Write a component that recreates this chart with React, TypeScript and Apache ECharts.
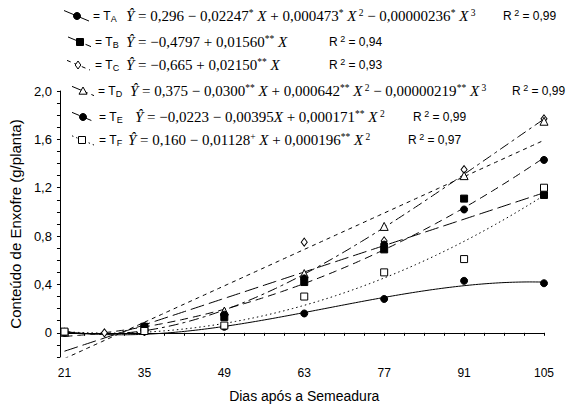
import React, { useEffect, useRef } from 'react';
import * as echarts from 'echarts';

// Sampling days (x) and observed values (g/planta)
const days = [21, 35, 49, 63, 77, 91, 105];
const obsA = [0.005, 0.01, 0.05, 0.16, 0.28, 0.43, 0.41];
const obsB = [0.005, 0.05, 0.13, 0.42, 0.69, 1.11, 1.14];
const obsC = [0.005, 0.04, 0.16, 0.75, 0.76, 1.35, 1.77];
const obsD = [0.005, 0.05, 0.18, 0.49, 0.88, 1.3, 1.75];
const obsE = [0.0, 0.055, 0.15, 0.45, 0.73, 1.02, 1.43];
const obsF = [0.01, 0.015, 0.06, 0.3, 0.5, 0.61, 1.2];
const extraDaysC = [28];
const extraObsC = [0.0];

// Regression coefficients read from the equations (b0, b1, b2, b3)
const coefA = [0.296, -0.02247, 0.000473, -0.00000236];
const coefB = [-0.4797, 0.0156];
const coefC = [-0.665, 0.0215];
const coefD = [0.375, -0.03, 0.000642, -0.00000219];
const coefE = [-0.0223, -0.00395, 0.000171];
const coefF = [0.16, -0.01128, 0.000196];

// Legend texts
const names = ['A', 'B', 'C', 'D', 'E', 'F'];
const equations = [
  '{i|Ŷ} = 0,296 − 0,02247{s|*} {i|X} + 0,000473{s|*} {i|X}{s| 2} − 0,00000236{s|*} {i|X}{s| 3}',
  '{i|Ŷ} = −0,4797 + 0,01560{s|**} {i|X}',
  '{i|Ŷ} = −0,665 + 0,02150{s|**} {i|X}',
  '{i|Ŷ} = 0,375 − 0,0300{s|**} {i|X} + 0,000642{s|**} {i|X}{s| 2} − 0,00000219{s|**} {i|X}{s| 3}',
  '{i|Ŷ} = −0,0223 − 0,00395{i|X} + 0,000171{s|**} {i|X}{s| 2}',
  '{i|Ŷ} = 0,160 − 0,01128{s|+} {i|X} + 0,000196{s|**} {i|X}{s| 2}',
];
const r2Values = ['0,99', '0,94', '0,93', '0,99', '0,99', '0,97'];

const yTitle = 'Conteúdo de Enxofre (g/planta)';
const xTitle = 'Dias após a Semeadura';

const serif = "'Liberation Serif', 'Times New Roman', serif";
const sans = "'Liberation Sans', Arial, sans-serif";

function poly(c: number[], x: number) {
  return c.reduce((s, k, i) => s + k * Math.pow(x, i), 0);
}
function curve(c: number[]) {
  const pts: number[][] = [];
  for (let i = 0; i <= 168; i++) {
    const x = 21 + i * 0.5;
    pts.push([x, poly(c, x)]);
  }
  return pts;
}

const obsAll = [obsA, obsB, obsC, obsD, obsE, obsF];
const coefAll = [coefA, coefB, coefC, coefD, coefE, coefF];

type St = { dash: any; symbol: string; size: number; filled: boolean };
const styles: St[] = [
  { dash: 'solid', symbol: 'circle', size: 7, filled: true },
  { dash: [14, 5], symbol: 'rect', size: 7, filled: true },
  { dash: [4, 4], symbol: 'diamond', size: 8, filled: false },
  { dash: [10, 4, 3, 4], symbol: 'triangle', size: 8, filled: false },
  { dash: [8, 5], symbol: 'circle', size: 7, filled: true },
  { dash: [1.5, 3], symbol: 'rect', size: 7, filled: false },
];

// legend layout
const rows = [
  { y: 16, sx: 77, l0: 64, l1: 89, ex: 93, qx: 126, rx: 503 },
  { y: 42, sx: 80, l0: 68, l1: 91, ex: 95, qx: 126, rx: 329 },
  { y: 65, sx: 78, l0: 67, l1: 90, ex: 95, qx: 126, rx: 329 },
  { y: 91, sx: 83, l0: 72, l1: 94, ex: 98, qx: 130, rx: 512 },
  { y: 117, sx: 83, l0: 72, l1: 94, ex: 99, qx: 135, rx: 413 },
  { y: 140, sx: 82, l0: 72, l1: 94, ex: 99, qx: 128, rx: 408 },
];

function legendMarker(st: St, cx: number, cy: number) {
  const fill = st.filled ? '#000' : '#fff';
  const s = { fill, stroke: '#000', lineWidth: 1 };
  const h = st.size / 2;
  if (st.symbol === 'circle') return { type: 'circle', shape: { cx, cy, r: h }, style: s, z: 10 };
  if (st.symbol === 'rect') return { type: 'rect', shape: { x: cx - h, y: cy - h, width: st.size, height: st.size }, style: s, z: 10 };
  if (st.symbol === 'diamond')
    return { type: 'polygon', shape: { points: [[cx, cy - h], [cx + h * 0.7, cy], [cx, cy + h], [cx - h * 0.7, cy]] }, style: s, z: 10 };
  return { type: 'polygon', shape: { points: [[cx, cy - h], [cx + h, cy + h * 0.8], [cx - h, cy + h * 0.8]] }, style: s, z: 10 };
}

function buildGraphic() {
  const els: any[] = [];
  rows.forEach((r, i) => {
    const st = styles[i];
    const slope = 0.42;
    els.push({
      type: 'line',
      shape: { x1: r.l0, y1: r.y - (r.sx - r.l0) * slope, x2: r.l1, y2: r.y + (r.l1 - r.sx) * slope },
      style: { stroke: '#000', lineWidth: 1, lineDash: st.dash === 'solid' ? null : st.dash },
    });
    els.push(legendMarker(st, r.sx, r.y));
    els.push({
      type: 'text',
      x: r.ex,
      y: r.y,
      style: {
        text: '= T{sub|' + names[i] + '}',
        fontFamily: sans,
        fontSize: 12,
        fill: '#000',
        verticalAlign: 'middle',
        lineHeight: 14,
        rich: { sub: { fontFamily: sans, fontSize: 9, fill: '#000', verticalAlign: 'bottom', lineHeight: 11 } },
      },
    });
    els.push({
      type: 'text',
      x: r.qx,
      y: r.y,
      style: {
        text: equations[i],
        fontFamily: serif,
        fontSize: 15,
        fill: '#000',
        verticalAlign: 'middle',
        lineHeight: 17,
        rich: {
          i: { fontFamily: serif, fontStyle: 'italic', fontSize: 15, fill: '#000', lineHeight: 17 },
          s: { fontFamily: serif, fontSize: 9.5, fill: '#000', verticalAlign: 'top', lineHeight: 9 },
        },
      },
    });
    els.push({
      type: 'text',
      x: r.rx,
      y: r.y,
      style: {
        text: 'R{sup| 2} = ' + r2Values[i],
        fontFamily: sans,
        fontSize: 12,
        fill: '#000',
        verticalAlign: 'middle',
        lineHeight: 15,
        rich: { sup: { fontFamily: sans, fontSize: 9, fill: '#000', verticalAlign: 'top', lineHeight: 9 } },
      },
    });
  });
  return els;
}

function buildSeries() {
  const series: any[] = [];
  coefAll.forEach((c, i) => {
    const st = styles[i];
    series.push({
      type: 'line',
      data: curve(c),
      showSymbol: false,
      symbol: 'none',
      clip: true,
      lineStyle: { color: '#000', width: 1, type: st.dash },
      z: 2,
      silent: true,
    });
  });
  obsAll.forEach((o, i) => {
    const st = styles[i];
    let data = days.map((d, k) => [d, o[k]]);
    if (i === 2) data = data.concat(extraDaysC.map((d, k) => [d, extraObsC[k]]));
    series.push({
      type: 'scatter',
      data,
      symbol: st.symbol,
      symbolSize: st.symbol === 'diamond' ? [6, 8] : st.size,
      itemStyle: { color: st.filled ? '#000' : '#fff', borderColor: '#000', borderWidth: 1, opacity: 1 },
      z: 5 + i,
      silent: true,
    });
  });
  return series;
}

export default function App() {
  const ref = useRef<HTMLDivElement>(null);
  useEffect(() => {
    if (!ref.current) return;
    const chart = echarts.init(ref.current, null, { renderer: 'svg' });
    const isInt = (v: number, step: number, base: number) => {
      const q = (v - base) / step;
      return Math.abs(q - Math.round(q)) < 1e-6;
    };
    chart.setOption({
      animation: false,
      backgroundColor: '#fff',
      grid: { left: 63.5, right: 29, top: 91, bottom: 46.3, containLabel: false },
      xAxis: {
        type: 'value',
        min: 21,
        max: 105,
        interval: 3.5,
        axisLine: { show: true, lineStyle: { color: '#000', width: 1 } },
        axisTick: { show: true, length: 3, lineStyle: { color: '#000' } },
        splitLine: { show: false },
        axisLabel: {
          color: '#000',
          fontFamily: sans,
          fontSize: 12,
          margin: 10,
          showMinLabel: true,
          showMaxLabel: true,
          formatter: (v: number) => (isInt(v, 14, 21) ? String(Math.round(v)) : ''),
        },
        name: xTitle,
        nameLocation: 'middle',
        nameGap: 32,
        nameTextStyle: { color: '#000', fontFamily: sans, fontSize: 14 },
      },
      yAxis: {
        type: 'value',
        min: -0.2,
        max: 2.0,
        interval: 0.1,
        offset: 4.5,
        axisLine: { show: true, onZero: false, lineStyle: { color: '#000', width: 1 } },
        axisTick: { show: true, length: 3, lineStyle: { color: '#000' } },
        splitLine: { show: false },
        axisLabel: {
          color: '#000',
          fontFamily: sans,
          fontSize: 13,
          margin: 8,
          showMinLabel: true,
          showMaxLabel: true,
          formatter: (v: number) => {
            if (v < -1e-6 || !isInt(v, 0.4, 0)) return '';
            if (Math.abs(v) < 1e-6) return '0';
            return v.toFixed(1).replace('.', ',');
          },
        },
        name: yTitle,
        nameLocation: 'middle',
        nameGap: 34,
        nameTextStyle: { color: '#000', fontFamily: sans, fontSize: 15 },
      },
      graphic: buildGraphic(),
      series: buildSeries(),
    });
    return () => chart.dispose();
  }, []);
  return <div ref={ref} style={{ position: 'fixed', left: 0, top: 0, width: 573, height: 408, background: '#fff' }} />;
}
